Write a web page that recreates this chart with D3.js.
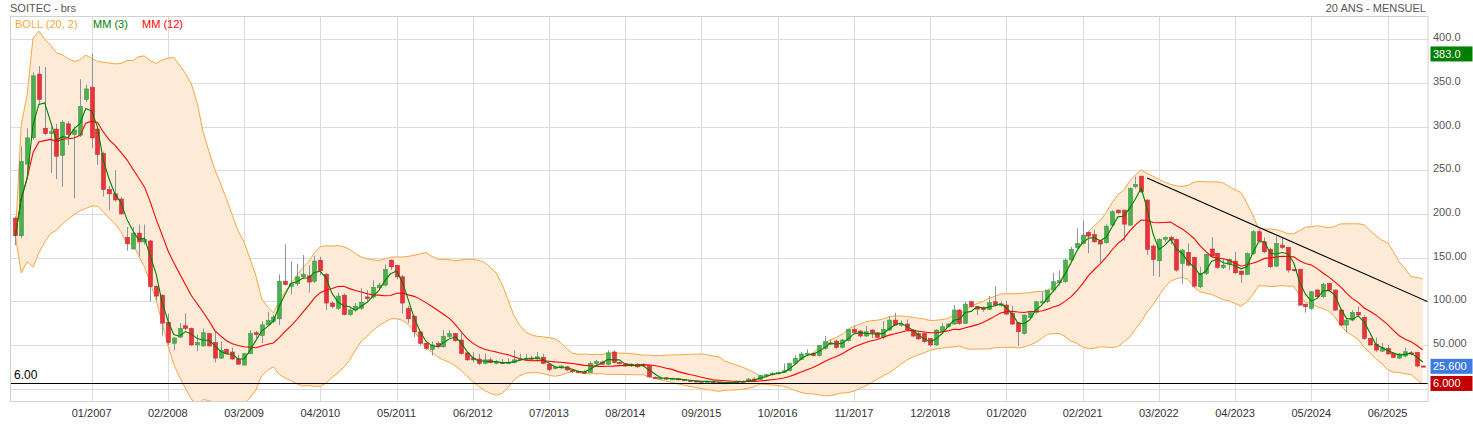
<!DOCTYPE html>
<html><head><meta charset="utf-8">
<script src="https://cdnjs.cloudflare.com/ajax/libs/d3/7.8.5/d3.min.js"></script>
<style>body{margin:0;background:#fff;} svg{display:block;font-family:"Liberation Sans",Arial,sans-serif;}</style>
</head><body><svg id="c" width="1473" height="426"></svg>
<script>
// ---- DATA (monthly candles, 12/2005 .. 12/2025) ----
const opens=[
195,175,257,287,360,298,292,297,267,303,
291,290,331,345,297,269,228,223,217,173,
160,178,168,169,117,107,76,52,59,72,
69,50,49,63,53,35,45,42,34,27,
40,64,61,73,77,80,123,117,120,128,
129,123,147,131,98,92,107,85,90,92,
105,105,115.5,118.5,147,141,128,92,83,65,
52,45,52,48,59.5,63,55.7,41,35,34,
29,33,30,30,29,30,33,34,35,34,
36,28,23,24,25,21.5,19.5,19,18.5,29,
30.5,28,42,30,28.5,26,28,28,26.5,13,
11.5,12.5,11,11.5,10.5,9.5,9,8.5,8,8.5,
7.5,7,6.5,7.5,8.5,8,11,10.5,15,16,
17.5,18.5,20.5,29,33.6,39,40.5,37.8,46.1,51.6,
54.5,47.3,54.9,67.9,66,60.3,67.1,64,58.7,67.1,
78.5,72.8,74,67.1,63,63.3,57.6,50,65.2,70.9,
74,90,74.7,99.5,93.8,93,90.7,99.5,95,95.7,
86,75.5,63.3,81.6,87,98.4,99.5,112.9,121.2,122.4,
147.2,161.7,166.2,178.8,176.5,169.3,167,187.2,204.3,204.3,
187.2,231,243.2,215.8,163.2,146.4,171,173,170.8,143.4,
156,150.2,116.6,131.9,159.8,154.8,138.8,142.6,146,134.6,
130.8,154.8,179.6,168,159.4,140.3,164.3,161.7,136.5,136.5,
96.8,91.9,112.9,105.2,120.4,112.9,90,72.8,78.5,87.3,
81.6,57.6,51,43,46.1,40.4,35,37.4,41,41.5,
26];
const highs=[
197,277,298,362,369,368,300,303,307,306,
300,354,348,383,300,271,232,250,219,185,
185,188,188,170,118,108,86,59,75,86,
70,62,69,64,65,54,46,47,39,41,
67,66,77,88,84,131,165,146,143,153,
141,152,151,132,100,110,109,93,98,115,
113,124,121,142,148,142,130,95,84,66,
53,54,54,67,67,64,64,42,42,40,
40,36,33,34,35,44,40,40,38,42,
40,29,26,27,26,22,21,21,31,33,
32,44,44,31,29,29,29,29,28,14,
14,13,12.5,12,11,10.5,9.5,9,9.5,9,
8,7.5,8,9,9.5,12,13,16,17,19,
20,29,30,38.5,42.3,45,42,50,60.2,56.4,
56,57,68.6,71.7,67,71.7,68,65,77.4,82.4,
86.9,78,79.3,68,66,64,58,68,75.5,75,
95.7,91,99.5,100.7,94,94,106,117.4,100,100.7,
95,76,85,88,100,111,113,132.7,135.7,149,
162.4,183.4,192.2,180,182.2,170,188,204.3,205,205,
230.3,242.5,243.6,217,165,172,174,175,172,160,
166.2,151,139.5,154.5,173.1,156,149,149,156.7,135,
156,181.5,182.2,173,161,174.6,172,162,137,137,
97,112,114,121,121.2,113.5,91,80,90,93.8,
84,58,58.3,52.6,50,42,41,47.3,43,42,
26.5];
const lows=[
164,172,248,285,325,290,247,240,231,279,
218,288,328,275,256,220,204,214,199,158,
159,151,165,100,101,61,50,44,58,67,
49,43,48,48,30,34,40,33,28,27,
40,58,52,72,75,73,118,108,118,126,
110,121,130,90,92,90,84,83,88,90,
100,103,113,117,136,125,86,75,59,50,
44,38,46,47,58,54,39,32,30,27,
28,29,28,28,28,29,32,33,33,33,
28,20,22,23,20,18,18,17,18,26,
28,27,29,28,25,25,24,25,12.5,11,
10.5,10.5,10,9.5,9,8.5,7.5,7,7.5,7,
6.5,6,6,7,7.5,7.5,10,10,13,15,
16,18,20,28,33,38,37,37,45,50,
45.8,46,54,63,58.7,59,57.6,57.6,57,66,
72,71,66,59,56,52,48,49,64,70,
73,73,74,93,84.3,88,90,94,94,84,
73,48.8,62,80,86,97,98,111,118,121,
146,160,165,154.8,167,143.4,166,186,200,169.3,
186,229,224,152.9,128.9,128,168,165,134,120,
140,116,115,130,150,137,137,135.7,131,121.2,
130,153,168,155,138,139,160,133,134,94.5,
87,90,104,104,111,89,72,64.1,77,83,
56,49,42.3,42,39,35,34,36,38,24.4,
25];
const closes=[
175,260,287,358,331,292,294,266,305,291,
296,323,343,287,268,228,223,216,200,166,
178,168,171,117,106,75,53,58,69,69,
50,53,64,49,35,44,40,34,28,40,
63,62,73,78,82,123,119,120,128,131,
122,146,135,98,94,106,85,90,94.5,99,
103,116,118.5,136.5,139.5,128,98,80,65,52,
46,50,48,60,63,55,40.4,33,33,29,
33,30,30.5,29,30,33,34.5,35,34,36.5,
29,22,24.5,26,21.5,19.5,19,18.5,29,31,
28,41,30,28.5,26,28,25,26.5,13.5,11.5,
12.5,11,11.5,10.5,9.5,9,8.5,8,8.5,7.5,
7,6.5,7.5,8.5,8,11,10.5,15,16,17.5,
18.5,20.5,29,34.7,39.7,40.5,38,49.2,53.8,52.5,
47.3,55.7,67.9,64.4,60.3,65.2,63.3,58.7,67.9,78.5,
72.8,74,67.1,60.3,57,53.8,50,67.1,70.9,74,
90,74.7,96.8,93.8,91,90.7,98.4,95.7,97,85.4,
74,65.2,84.3,87,99.5,99.5,112.9,122.4,124,147.2,
159.4,166.2,175.8,174.6,168.1,165.5,186,202.5,201.3,188.3,
229.1,233.7,225.3,159.4,147.9,170.8,173,170,135.7,158.6,
141.4,117.4,131.9,153.7,151.8,138.8,141.4,148,132.7,130.8,
154.8,179.6,169,156.7,139.5,166.2,161.7,135.7,135,95.7,
93.8,110.9,105.2,119.3,112.9,90,72.8,78.5,87.3,84.3,
57.6,50,44.2,46.9,39.7,35.9,39.7,42.3,40,26,
25.6];
const xTickIndex=[13,26,39,52,65,78,91,104,117,130,143,156,169,182,195,208,221,234];
const xTickLabels=["01/2007","02/2008","03/2009","04/2010","05/2011","06/2012","07/2013","08/2014","09/2015","10/2016","11/2017","12/2018","01/2020","02/2021","03/2022","04/2023","05/2024","06/2025"];
const yTicks=[0,50,100,150,200,250,300,350,400];
const yTickLabels=["","50.000","100.00","150.00","200.0","250.0","300.0","350.0","400.0"];
const supportLevel=6;
const trendIdx=[193,240.9];
const trendVal=[241,99.5];
const badgeVals=[383,25.6,6];
const badgeLabels=["383.0","25.600","6.000"];
const badgeColors=["#008000","#3d7be0","#c00000"];

// ---- LAYOUT ----
const svg=d3.select("#c");
const L=10.5,R=1428,T=16.5,B=401.5;
const x=d3.scaleLinear().domain([-0.8,240.9]).range([10.7,1428]);
const y=d3.scaleLinear().domain([0,400]).range([388.7,39.1]);

// indicators (expanding window at start)
const idx=d3.range(closes.length);
function sma(n){return idx.map(i=>d3.mean(closes.slice(Math.max(0,i-n+1),i+1)));}
const mm3=sma(3), mm12=sma(12);
const boll=idx.map(i=>{const s=closes.slice(Math.max(0,i-19),i+1);const m=d3.mean(s);const sd=Math.sqrt(d3.mean(s.map(v=>(v-m)*(v-m))));return {i,up:m+2*sd,lo:m-2*sd};});

svg.append("rect").attr("width",1473).attr("height",426).attr("fill","#fff");
svg.append("defs").append("clipPath").attr("id","clip").append("rect")
  .attr("x",L).attr("y",T).attr("width",R-L).attr("height",B-T);

// grid
const g=svg.append("g");
g.selectAll(".hg").data(yTicks).join("line")
  .attr("x1",L).attr("x2",R).attr("y1",d=>Math.round(y(d))+0.5).attr("y2",d=>Math.round(y(d))+0.5)
  .attr("stroke","#dcdcdc").attr("stroke-width",1);
g.selectAll(".vg").data(xTickIndex).join("line")
  .attr("y1",T).attr("y2",B).attr("x1",d=>Math.round(x(d))+0.5).attr("x2",d=>Math.round(x(d))+0.5)
  .attr("stroke","#dcdcdc").attr("stroke-width",1);

const pc=svg.append("g").attr("clip-path","url(#clip)");
// bollinger
pc.append("path").datum(boll)
  .attr("d",d3.area().x(d=>x(d.i)).y0(d=>y(d.lo)).y1(d=>y(d.up)))
  .attr("fill","#fdebd7");
["up","lo"].forEach(k=>{
  pc.append("path").datum(boll).attr("d",d3.line().x(d=>x(d.i)).y(d=>y(d[k])))
    .attr("fill","none").attr("stroke","#f7a541").attr("stroke-width",1);
});

// candles
const cg=pc.append("g");
cg.selectAll("line").data(idx).join("line")
  .attr("x1",i=>Math.round(x(i))+0.5).attr("x2",i=>Math.round(x(i))+0.5)
  .attr("y1",i=>y(highs[i])).attr("y2",i=>y(lows[i]))
  .attr("stroke","#8593a3").attr("stroke-width",1);
cg.selectAll("rect").data(idx).join("rect")
  .attr("x",i=>Math.round(x(i))-1.5).attr("width",4)
  .attr("y",i=>y(Math.max(opens[i],closes[i])))
  .attr("height",i=>Math.max(1.2,Math.abs(y(opens[i])-y(closes[i]))))
  .attr("fill",i=>closes[i]>=opens[i]?"#4cb050":"#e8333c")
  .attr("stroke",i=>closes[i]>=opens[i]?"#3f9a44":"#cc2b33").attr("stroke-width",0.6);

// moving averages
pc.append("path").datum(idx).attr("d",d3.line().x(i=>x(i)).y(i=>y(mm12[i])))
  .attr("fill","none").attr("stroke","#ff0000").attr("stroke-width",1.1);
pc.append("path").datum(idx).attr("d",d3.line().x(i=>x(i)).y(i=>y(mm3[i])))
  .attr("fill","none").attr("stroke","#008000").attr("stroke-width",1.1);

// trendline
pc.append("line").attr("x1",x(trendIdx[0])).attr("y1",y(trendVal[0]))
  .attr("x2",x(trendIdx[1])).attr("y2",y(trendVal[1]))
  .attr("stroke","#000").attr("stroke-width",1.1);
// support line
svg.append("line").attr("x1",L).attr("x2",R).attr("y1",y(supportLevel)).attr("y2",y(supportLevel))
  .attr("stroke","#000").attr("stroke-width",1.1);
svg.append("text").attr("x",14).attr("y",y(supportLevel)-4).attr("font-size",12).attr("fill","#000").text(supportLevel.toFixed(2));

// border
svg.append("rect").attr("x",L).attr("y",T).attr("width",R-L).attr("height",B-T)
  .attr("fill","none").attr("stroke","#d0d0d0");

// y labels
svg.selectAll(".yl").data(yTicks).join("text")
  .attr("x",1433).attr("y",d=>y(d)+2).attr("font-size",11).attr("fill","#555").text((d,i)=>yTickLabels[i]);
// x labels
svg.selectAll(".xl").data(xTickIndex).join("text")
  .attr("x",d=>x(d)).attr("y",417).attr("text-anchor","middle").attr("font-size",11).attr("fill","#333").text((d,i)=>xTickLabels[i]);

// badges
badgeVals.forEach((v,k)=>{
  svg.append("rect").attr("x",1430.5).attr("y",y(v)-7.5).attr("width",42).attr("height",15).attr("fill",badgeColors[k]);
  svg.append("text").attr("x",1433).attr("y",y(v)+4).attr("font-size",11).attr("fill","#fff").text(badgeLabels[k]);
});

// titles and legend
svg.append("text").attr("x",10).attr("y",12).attr("font-size",11).attr("fill","#555").text("SOITEC - brs");
svg.append("text").attr("x",1426).attr("y",12).attr("font-size",11).attr("fill","#555").attr("text-anchor","end").text("20 ANS - MENSUEL");
const leg=[["BOLL (20, 2)","#f5a742",15],["MM (3)","#008000",93],["MM (12)","#ff0000",142]];
leg.forEach(l=>svg.append("text").attr("x",l[2]).attr("y",28).attr("font-size",11).attr("fill",l[1]).text(l[0]));
</script></body></html>
